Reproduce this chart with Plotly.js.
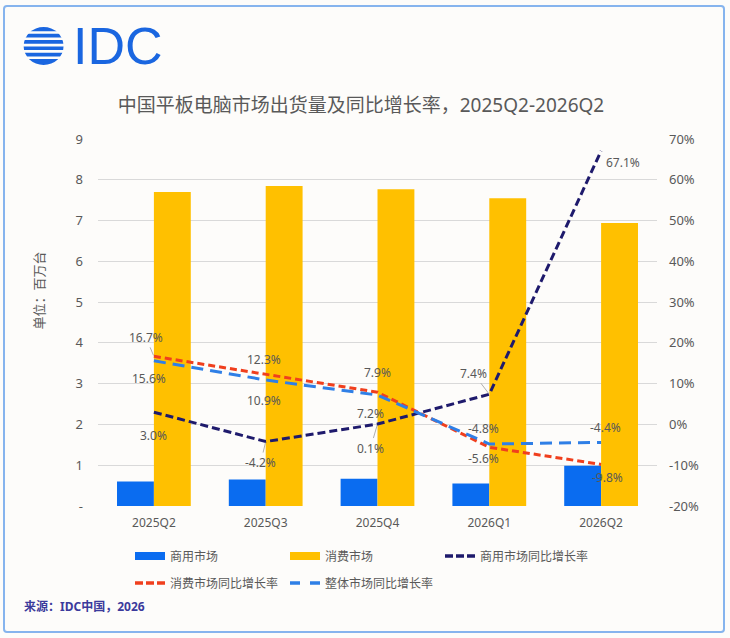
<!DOCTYPE html>
<html><head><meta charset="utf-8">
<script src="https://cdn.plot.ly/plotly-3.0.1.min.js"></script>
<style>
html,body{margin:0;padding:0;background:#fdfcfa;}
#wrap{position:relative;width:730px;height:638px;}
#chart{width:730px;height:638px;}
#frame{position:absolute;left:3px;top:5px;width:722px;height:628px;border:2px solid #86b4ee;border-radius:4px;pointer-events:none;box-sizing:border-box;}
</style></head><body>
<div id="wrap"><div id="chart"></div><div id="frame"></div></div>
<script>
// ---- data ----
const categories = ['2025Q2','2025Q3','2025Q4','2026Q1','2026Q2'];
const commercialShip = [0.60, 0.65, 0.67, 0.55, 0.99];
const consumerShip   = [7.70, 7.85, 7.77, 7.55, 6.94];
const commercialYoY  = [3.0, -4.2, 0.1, 7.4, 67.1];
const consumerYoY    = [16.7, 12.3, 7.9, -5.6, -9.8];
const totalYoY       = [15.6, 10.9, 7.2, -4.8, -4.4];
const seriesNames = ['商用市场','消费市场','商用市场同比增长率','消费市场同比增长率','整体市场同比增长率'];
const leftTickVals = [0,1,2,3,4,5,6,7,8,9];
const leftTickText = ['-','1','2','3','4','5','6','7','8','9'];
const rightTickVals = [-20,-10,0,10,20,30,40,50,60,70];
const rightTickText = rightTickVals.map(v => v + '%');
const titleText = '中国平板电脑市场出货量及同比增长率，2025Q2-2026Q2';
const yTitleText = '单位：百万台';
const sourceText = '来源：IDC中国，2026';

// ---- label placement (screen px offsets, dy positive = down) ----
const commercialOff = [[0,23,0],[-5,21,1],[-7,24,1],[-16,-21,1],[22,12,0]];
const consumerOff   = [[-8,-19,1],[-2,-15,0],[0,-20,0],[-6,11,0],[6,13,0]];
const totalOff      = [[-5,18,0],[-2,20,0],[-7,18,0],[-6,-16,0],[4,-15,0]];

// ---- style ----
const FONT = '"Noto Sans", "Noto Sans CJK SC", sans-serif';
const GRAY = '#595959';
const C_BLUE = '#0a6cf0', C_YEL = '#ffc000', C_NAVY = '#1e1a6c', C_RED = '#f03f1d', C_LBLUE = '#2f7fe6';
const M = {l:97.5, r:72.5, t:139, b:132};
const W = 730, H = 638;
const pw = W - M.l - M.r, ph = H - M.t - M.b;
const px = x => (x - M.l) / pw;
const py = y => (H - M.b - y) / ph;

function pctLabels(vals, offs) {
  return vals.map((v, i) => {
    const o = offs[i];
    const a = {x: categories[i], y: v, xref: 'x', yref: 'y2', text: v.toFixed(1) + '%',
      font: {family: FONT, size: 12, color: GRAY}};
    if (o[2]) {
      Object.assign(a, {showarrow: true, arrowhead: 0, arrowwidth: 0.8, arrowcolor: '#9a9a9a', ax: o[0], ay: o[1], standoff: 1});
    } else {
      Object.assign(a, {showarrow: false, xshift: o[0], yshift: -o[1]});
    }
    return a;
  });
}

const traces = [
  {type:'bar', name: seriesNames[0], x: categories, y: commercialShip, marker:{color:C_BLUE}, showlegend:false, hoverinfo:'skip'},
  {type:'bar', name: seriesNames[1], x: categories, y: consumerShip, marker:{color:C_YEL}, showlegend:false, hoverinfo:'skip'},
  {type:'scatter', mode:'lines', name: seriesNames[2], x: categories, y: commercialYoY, yaxis:'y2',
   line:{color:C_NAVY, width:3, dash:'8px,4px'}, showlegend:false},
  {type:'scatter', mode:'lines', name: seriesNames[3], x: categories, y: consumerYoY, yaxis:'y2',
   line:{color:C_RED, width:3, dash:'7px,4px'}, showlegend:false},
  {type:'scatter', mode:'lines', name: seriesNames[4], x: categories, y: totalYoY, yaxis:'y2',
   line:{color:C_LBLUE, width:3, dash:'12px,7px'}, showlegend:false},
  // legend entries
  {type:'scatter', mode:'lines', name: seriesNames[0], x:[null], y:[null], line:{color:C_BLUE, width:8}, legend:'legend'},
  {type:'scatter', mode:'lines', name: seriesNames[1], x:[null], y:[null], line:{color:C_YEL, width:8}, legend:'legend'},
  {type:'scatter', mode:'lines', name: seriesNames[2], x:[null], y:[null], line:{color:C_NAVY, width:3.5, dash:'8px,3px'}, legend:'legend'},
  {type:'scatter', mode:'lines', name: seriesNames[3], x:[null], y:[null], line:{color:C_RED, width:3.5, dash:'8px,3px'}, legend:'legend2'},
  {type:'scatter', mode:'lines', name: seriesNames[4], x:[null], y:[null], line:{color:C_LBLUE, width:3.5, dash:'10px,10px'}, legend:'legend2'}
];

const legendCommon = {orientation:'h', xref:'container', yref:'container', x:130/W, xanchor:'left', yanchor:'middle',
  font:{family:FONT, size:12, color:GRAY}, entrywidth:110, entrywidthmode:'pixels', bgcolor:'rgba(0,0,0,0)', traceorder:'normal'};

const shapes = [{type:'circle', xref:'paper', yref:'paper', x0:px(23), x1:px(63), y0:py(65), y1:py(27), fillcolor:'#1a66e0', line:{width:0}}];
const stripeYs = [32.5, 38.8, 45.1, 51.4, 57.7];
stripeYs.forEach(y => shapes.push({type:'line', xref:'paper', yref:'paper', x0:px(20), x1:px(66), y0:py(y), y1:py(y), line:{color:'#fdfcfa', width:2.6}}));

const annotations = [
  ...pctLabels(commercialYoY, commercialOff),
  ...pctLabels(consumerYoY, consumerOff),
  ...pctLabels(totalYoY, totalOff),
  {xref:'paper', yref:'paper', x:px(70), y:py(46), xanchor:'left', yanchor:'middle', text:'IDC', showarrow:false,
   font:{family:'"Liberation Sans", Arial, sans-serif', size:52, color:'#1a66e0'}},
  {xref:'paper', yref:'paper', x:px(38), y:py(291), xanchor:'center', yanchor:'middle', text:yTitleText, textangle:-90, showarrow:false,
   font:{family:FONT, size:13, color:GRAY}},
  {xref:'paper', yref:'paper', x:px(21), y:py(606), xanchor:'left', yanchor:'middle', text:'<b>'+sourceText+'</b>', showarrow:false,
   font:{family:FONT, size:12, color:'#3b3a9c'}}
];

const layout = {
  width: W, height: H, margin: M,
  paper_bgcolor:'#fdfcfa', plot_bgcolor:'#fdfcfa',
  font:{family:FONT, color:GRAY},
  title:{text:titleText, xref:'container', yref:'container', x:361/W, xanchor:'center', y:1-105/H, yanchor:'middle',
    font:{family:FONT, size:19, color:GRAY}},
  barmode:'group', bargap:0.34, bargroupgap:0,
  xaxis:{type:'category', tickfont:{size:12, color:GRAY}, showgrid:false, zeroline:false, showline:false, ticks:'', ticklabelstandoff:8},
  yaxis:{range:[0,9], tickvals:leftTickVals, ticktext:leftTickText, tickfont:{size:13, color:GRAY}, showgrid:true, gridcolor:'#d9d9d9', gridwidth:1,
    zeroline:false, showline:false, ticks:'', ticklabelstandoff:14},
  yaxis2:{overlaying:'y', side:'right', range:[-20,70], tickvals:rightTickVals, ticktext:rightTickText, tickfont:{size:13, color:GRAY},
    showgrid:false, zeroline:false, showline:false, ticks:'', ticklabelstandoff:11},
  legend: Object.assign({}, legendCommon, {y:1-556/H}),
  legend2: Object.assign({}, legendCommon, {y:1-583/H}),
  shapes: shapes,
  annotations: annotations,
  showlegend:true
};

Plotly.newPlot('chart', traces, layout, {staticPlot:true, displayModeBar:false});
</script>
</body></html>
